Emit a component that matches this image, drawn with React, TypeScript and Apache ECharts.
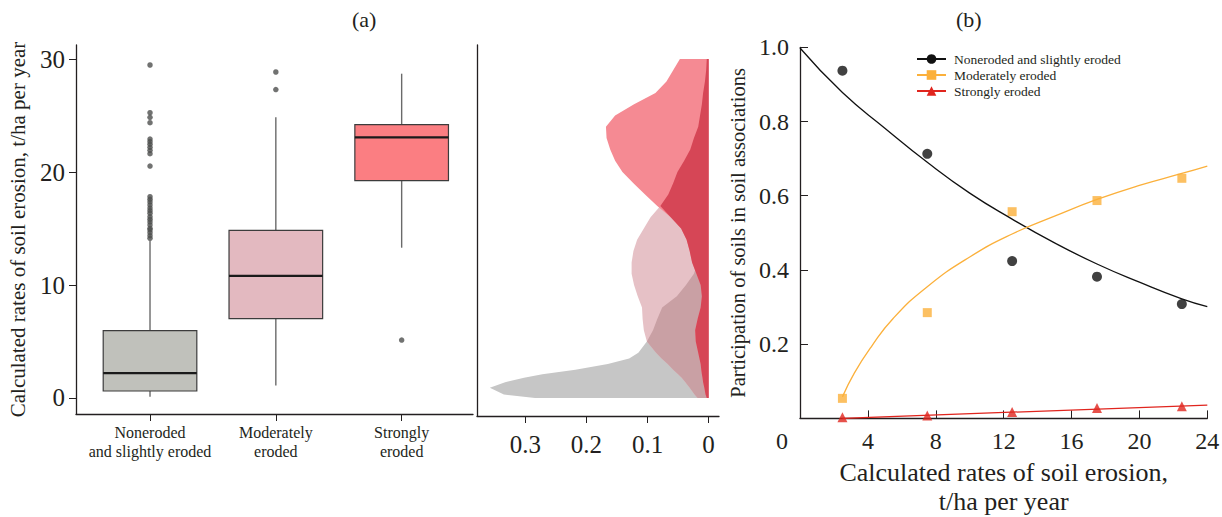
import React, { useEffect, useRef } from 'react';
import * as echarts from 'echarts';

// ---------- Panel (a): box plot ----------
const categories = ['Noneroded\nand slightly eroded', 'Moderately\neroded', 'Strongly\neroded'];
const boxLow = [0.1, 1.1, 13.3];
const boxQ1 = [0.62, 7.02, 19.23];
const boxMedian = [2.2, 10.8, 23.07];
const boxQ3 = [5.96, 14.84, 24.2];
const boxHigh = [13.9, 24.84, 28.7];
const outliersNoneroded = [29.47, 25.25, 24.84, 24.36, 22.92, 22.68, 22.45, 22.19, 21.92, 21.62, 20.53,
  17.81, 17.58, 17.35, 17.08, 16.81, 16.58, 16.35, 16.04, 15.81, 15.58, 15.31, 15.02, 14.87, 14.63, 14.36, 14.13];
const outliersModerate = [28.85, 27.3];
const outliersStrong = [5.13];
const boxTicks = [0, 10, 20, 30];
const boxColors = ['#c0c1bb', '#e3b9c0', '#fb7e82'];

// ---------- Panel (a): densities ----------
const densityLevels = [0, 0.3, 0.9, 1.4, 1.8, 2.1, 2.5, 3, 3.5, 4, 5, 6, 7, 8, 9, 10, 11, 12, 13, 14, 15,
  16, 17, 18, 19, 20, 21, 22, 23, 24, 25, 26, 27, 28, 29, 30];
const densityNoneroded = [0.284, 0.335, 0.358, 0.333, 0.302, 0.272, 0.218, 0.165, 0.13, 0.115, 0.101, 0.091,
  0.084, 0.076, 0.052, 0.037, 0.024, 0.018, 0.015, 0.012, 0.010, 0.009, 0.008, 0.007, 0.006, 0.006, 0.005,
  0.005, 0.004, 0.003, 0.003, 0.002, 0.002, 0.001, 0.001, 0.001];
const densityModerate = [0.018, 0.023, 0.031, 0.038, 0.044, 0.05, 0.058, 0.067, 0.077, 0.086, 0.101, 0.106,
  0.108, 0.109, 0.116, 0.122, 0.126, 0.126, 0.123, 0.117, 0.106, 0.095, 0.079, 0.066, 0.058, 0.051, 0.040,
  0.030, 0.024, 0.017, 0.014, 0.011, 0.009, 0.006, 0.004, 0.003];
const densityStrong = [0.003, 0.005, 0.007, 0.009, 0.010, 0.011, 0.012, 0.013, 0.015, 0.017, 0.021, 0.022,
  0.018, 0.013, 0.011, 0.013, 0.020, 0.027, 0.031, 0.036, 0.045, 0.062, 0.084, 0.104, 0.123, 0.141, 0.153,
  0.161, 0.167, 0.168, 0.153, 0.122, 0.087, 0.069, 0.058, 0.047];
const densityTicks = [0, 0.1, 0.2, 0.3];

// ---------- Panel (b) ----------
const obsX = [2.5, 7.5, 12.5, 17.5, 22.5];
const obsNoneroded = [0.937, 0.713, 0.424, 0.382, 0.308];
const obsModerate = [0.054, 0.285, 0.557, 0.587, 0.647];
const obsStrong = [0.003, 0.008, 0.017, 0.028, 0.033];
const fitNonX = [0, 2.5, 5, 7.5, 10, 12.5, 15, 17.5, 20, 22.5, 24];
const fitNon = [0.998, 0.878, 0.782, 0.69, 0.607, 0.537, 0.473, 0.416, 0.367, 0.322, 0.301];
const fitModX = [2.5, 3.2, 4.2, 5.5, 7.5, 10, 12.5, 15, 17.5, 20, 22.5, 24];
const fitMod = [0.058, 0.122, 0.193, 0.270, 0.355, 0.435, 0.497, 0.545, 0.59, 0.628, 0.66, 0.68];
const fitStrongX = [2.5, 24];
const fitStrong = [0.0, 0.036];
const seriesNames = ['Noneroded and slightly eroded', 'Moderately eroded', 'Strongly eroded'];

const FONT = 'Liberation Serif, Times New Roman, serif';
const INK = '#231f20';

export default function App() {
  const ref = useRef<HTMLDivElement>(null);
  useEffect(() => {
    if (!ref.current) return;
    const chart = echarts.init(ref.current, undefined, { renderer: 'svg' });

    const minOf = (a: number[], b: number[]) => a.map((v, i) => Math.min(v, b[i]));
    const densityLayers = [
      { values: densityNoneroded, color: '#c6c6c6' },
      { values: densityModerate, color: '#e6c1c6' },
      { values: minOf(densityModerate, densityNoneroded), color: '#c9a0a4' },
      { values: densityStrong, color: '#f58a93' },
      { values: minOf(densityStrong, densityModerate), color: '#d64656' },
    ];
    const pair = (xs: number[], ys: number[]) => xs.map((x, i) => [x, ys[i]]);

    const axisLine = { show: true, onZero: false, lineStyle: { color: INK, width: 1.3 } };
    const labelBase = { fontFamily: FONT, color: INK };

    const option: any = {
      animation: false,
      backgroundColor: '#ffffff',
      grid: [
        { left: 76, top: 45, width: 397, height: 369, outerBoundsMode: 'none', containLabel: false },
        { left: 477, top: 45, width: 242, height: 371, outerBoundsMode: 'none', containLabel: false },
        { left: 800, top: 47.3, width: 407.3, height: 371.1, outerBoundsMode: 'none', containLabel: false },
      ],
      xAxis: [
        {
          gridIndex: 0, type: 'value', min: 0.4118, max: 3.567,
          axisLine, splitLine: { show: false },
          axisTick: { show: true, length: 7, customValues: [1, 2, 3], lineStyle: { color: INK } },
          axisLabel: {
            ...labelBase, customValues: [1, 2, 3], fontSize: 16, lineHeight: 19, margin: 9,
            formatter: (v: number) => categories[Math.round(v) - 1] || '',
          },
        },
        {
          gridIndex: 1, type: 'value', min: -0.017, max: 0.379, inverse: true,
          axisLine, splitLine: { show: false },
          axisTick: { show: true, length: 7, customValues: densityTicks, lineStyle: { color: INK } },
          axisLabel: {
            ...labelBase, customValues: densityTicks, fontSize: 25, margin: 16,
            formatter: (v: number) => (v === 0 ? '0' : String(Math.round(v * 10) / 10)),
          },
        },
        {
          gridIndex: 2, type: 'value', min: 0, max: 24, interval: 4,
          axisLine, splitLine: { show: false },
          axisTick: { show: true, inside: true, length: 8, lineStyle: { color: INK } },
          axisLabel: {
            ...labelBase, fontSize: 24, margin: 11,
            formatter: (v: number) => (v === 0 ? '{z|0}' : String(v)),
            rich: { z: { fontFamily: FONT, fontSize: 24, color: INK, padding: [0, 36, 0, 0] } },
          },
          name: 'Calculated rates of soil erosion,\nt/ha per year',
          nameLocation: 'middle', nameGap: 31,
          nameTextStyle: { fontFamily: FONT, fontSize: 26, color: INK, lineHeight: 29 },
        },
      ],
      yAxis: [
        {
          gridIndex: 0, type: 'value', min: -1.416, max: 31.24,
          axisLine, splitLine: { show: false },
          axisTick: { show: true, length: 7, customValues: boxTicks, lineStyle: { color: INK } },
          axisLabel: { ...labelBase, customValues: boxTicks, fontSize: 25, margin: 11 },
          name: 'Calculated rates of soil erosion, t/ha per year',
          nameLocation: 'middle', nameGap: 48, nameRotate: 90,
          nameTextStyle: { fontFamily: FONT, fontSize: 21, color: INK },
        },
        {
          gridIndex: 1, type: 'value', min: -1.593, max: 31.24,
          axisLine, splitLine: { show: false }, axisTick: { show: false }, axisLabel: { show: false },
        },
        {
          gridIndex: 2, type: 'value', min: 0, max: 1, interval: 0.2,
          axisLine, splitLine: { show: false },
          axisTick: { show: true, inside: true, length: 8, lineStyle: { color: INK } },
          axisLabel: {
            ...labelBase, fontSize: 24, margin: 11,
            formatter: (v: number) => (v === 0 ? '' : v.toFixed(1)),
          },
          name: 'Participation of soils in soil associations',
          nameLocation: 'middle', nameGap: 52, nameRotate: 90,
          nameTextStyle: { fontFamily: FONT, fontSize: 20.5, color: INK },
        },
      ],
      legend: {
        data: seriesNames,
        orient: 'vertical', left: 911, top: 47, padding: 5,
        itemWidth: 29, itemHeight: 12, itemGap: 2,
        textStyle: { fontFamily: FONT, fontSize: 13.5, color: INK, padding: [0, 0, 0, 3] },
      },
      graphic: [
        { type: 'text', left: 352, top: 8, style: { text: '(a)', font: `22px ${FONT}`, fill: INK } },
        { type: 'text', left: 956, top: 8, style: { text: '(b)', font: `22px ${FONT}`, fill: INK } },
      ],
      series: [
        {
          type: 'custom', name: 'density', xAxisIndex: 1, yAxisIndex: 1, silent: true,
          data: densityLayers.map((_, i) => [0, 0, i]),
          renderItem: (params: any, api: any) => {
            const layer = densityLayers[params.dataIndex];
            const pts = densityLevels.map((v, i) => api.coord([layer.values[i], v]));
            pts.push(api.coord([0, densityLevels[densityLevels.length - 1]]));
            pts.push(api.coord([0, densityLevels[0]]));
            return { type: 'polygon', shape: { points: pts }, style: { fill: layer.color } };
          },
        },
        {
          type: 'custom', name: 'box', xAxisIndex: 0, yAxisIndex: 0, silent: true,
          encode: { x: 0, y: [1, 2, 3, 4, 5] },
          data: categories.map((_, i) => [i + 1, boxLow[i], boxQ1[i], boxMedian[i], boxQ3[i], boxHigh[i]]),
          renderItem: (params: any, api: any) => {
            const i = params.dataIndex;
            const x = api.value(0);
            const half = api.size([0.744, 0])[0] / 2;
            const low = api.coord([x, api.value(1)]);
            const q1 = api.coord([x, api.value(2)]);
            const med = api.coord([x, api.value(3)]);
            const q3 = api.coord([x, api.value(4)]);
            const high = api.coord([x, api.value(5)]);
            const whisker = { stroke: '#6a6a6a', lineWidth: 1.4 };
            return {
              type: 'group',
              children: [
                { type: 'line', shape: { x1: low[0], y1: low[1], x2: q1[0], y2: q1[1] }, style: whisker },
                { type: 'line', shape: { x1: q3[0], y1: q3[1], x2: high[0], y2: high[1] }, style: whisker },
                {
                  type: 'rect',
                  shape: { x: q3[0] - half, y: q3[1], width: half * 2, height: q1[1] - q3[1] },
                  style: { fill: boxColors[i], stroke: '#3c3c3c', lineWidth: 1.2 },
                },
                {
                  type: 'line', shape: { x1: med[0] - half, y1: med[1], x2: med[0] + half, y2: med[1] },
                  style: { stroke: '#1a1a1a', lineWidth: 2.2 },
                },
              ],
            };
          },
        },
        {
          type: 'scatter', name: 'outliers', xAxisIndex: 0, yAxisIndex: 0, silent: true,
          symbol: 'circle', symbolSize: 5.5, itemStyle: { color: '#4d4f4d' },
          data: [
            ...outliersNoneroded.map((v) => [1, v]),
            ...outliersModerate.map((v) => [2, v]),
            ...outliersStrong.map((v) => [3, v]),
          ],
        },
        // panel (b) fitted curves (legend entries)
        {
          type: 'line', name: seriesNames[0], xAxisIndex: 2, yAxisIndex: 2, showSymbol: false,
          symbol: 'circle', smooth: true, data: pair(fitNonX, fitNon),
          lineStyle: { color: '#111111', width: 1.3 }, itemStyle: { color: '#111111' },
        },
        {
          type: 'line', name: seriesNames[1], xAxisIndex: 2, yAxisIndex: 2, showSymbol: false,
          symbol: 'rect', smooth: true, data: pair(fitModX, fitMod),
          lineStyle: { color: '#fbb03b', width: 1.3 }, itemStyle: { color: '#fbb03b' },
        },
        {
          type: 'line', name: seriesNames[2], xAxisIndex: 2, yAxisIndex: 2, showSymbol: false,
          symbol: 'triangle', data: pair(fitStrongX, fitStrong),
          lineStyle: { color: '#e0251e', width: 1.3 }, itemStyle: { color: '#e0251e' },
        },
        // observed points
        {
          type: 'scatter', name: 'obs-non', xAxisIndex: 2, yAxisIndex: 2, clip: false,
          symbol: 'circle', symbolSize: 10, itemStyle: { color: '#111111' }, data: pair(obsX, obsNoneroded),
        },
        {
          type: 'scatter', name: 'obs-mod', xAxisIndex: 2, yAxisIndex: 2, clip: false,
          symbol: 'rect', symbolSize: 9, itemStyle: { color: '#fbb03b' }, data: pair(obsX, obsModerate),
        },
        {
          type: 'scatter', name: 'obs-strong', xAxisIndex: 2, yAxisIndex: 2, clip: false,
          symbol: 'triangle', symbolSize: 10, itemStyle: { color: '#e0251e' }, data: pair(obsX, obsStrong),
        },
      ],
    };
    chart.setOption(option);
    return () => chart.dispose();
  }, []);
  return (
    <div
      ref={ref}
      style={{ position: 'fixed', left: 0, top: 0, width: 1222, height: 517, background: '#fff' }}
    />
  );
}
